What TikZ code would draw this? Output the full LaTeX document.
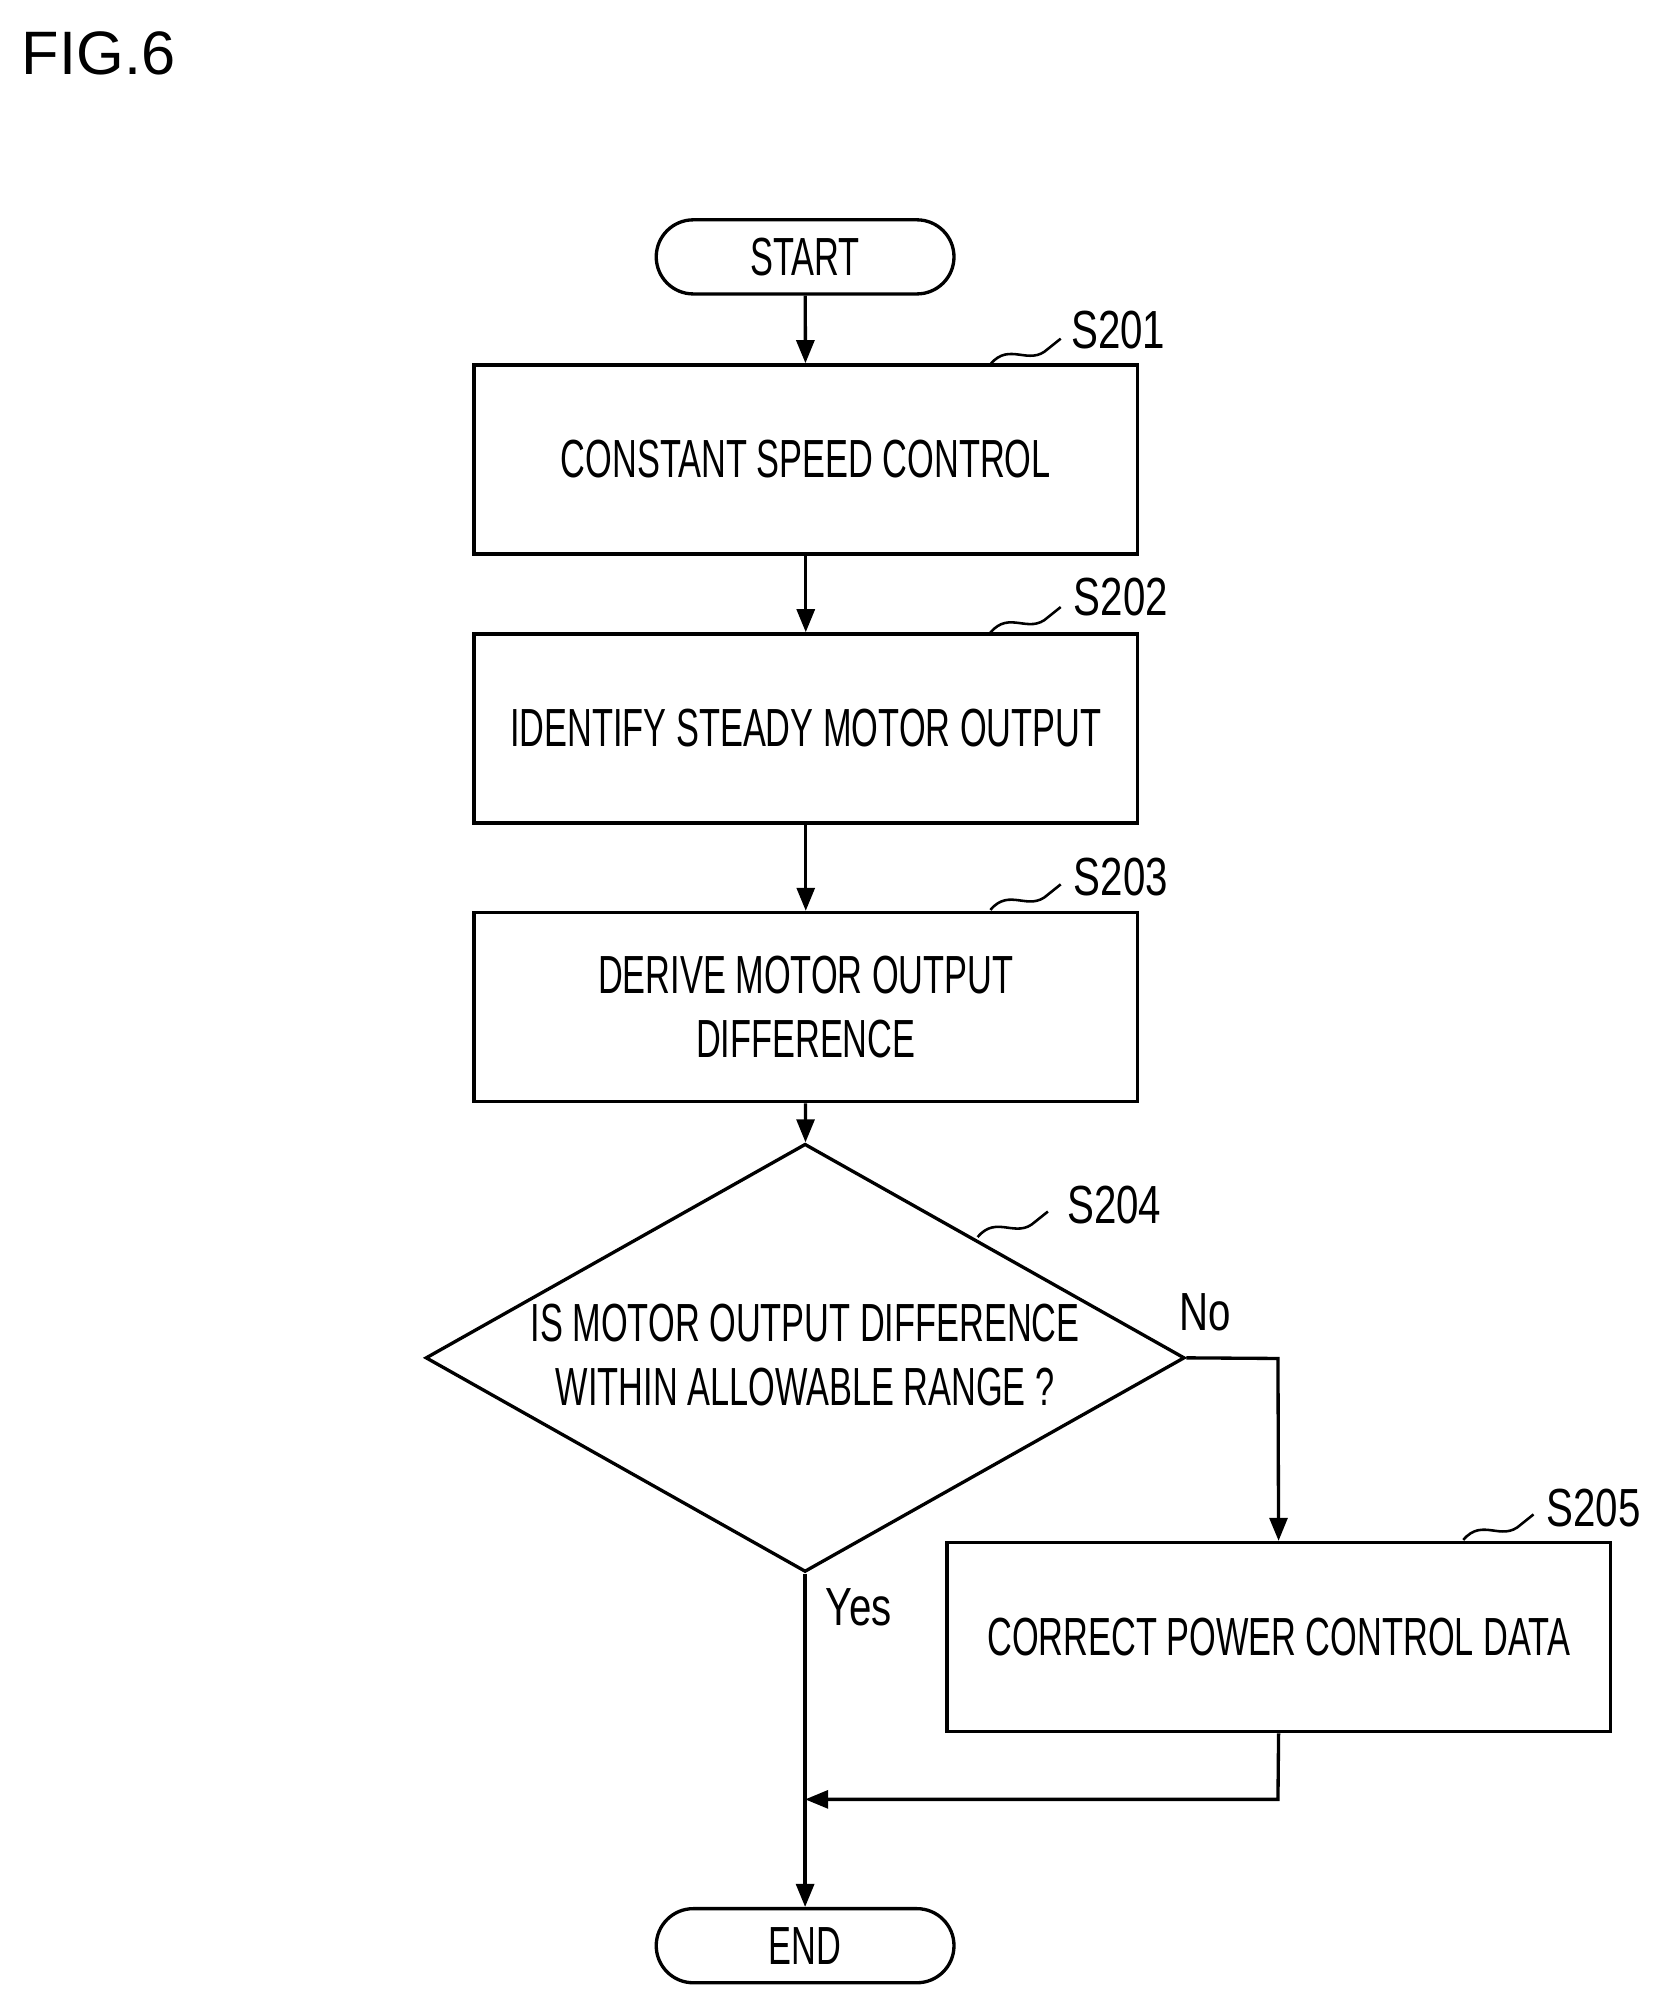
\documentclass[tikz,border=0pt]{standalone}
\usepackage{fontspec}
\setmainfont{Liberation Sans}
\newfontfamily\cond[FakeStretch=0.64]{Liberation Sans}
\newfontfamily\condl[FakeStretch=0.75]{Liberation Sans}
\usetikzlibrary{shapes.geometric,arrows.meta}
\begin{document}
\begin{tikzpicture}[x=0.5pt,y=-0.5pt,
  box/.style={draw,line width=1.3pt,minimum width=259.5pt,minimum height=74pt,align=center,font=\cond\fontsize{21}{25}\selectfont},
  term/.style={draw,line width=1.3pt,rounded corners=14.5pt,minimum width=116.5pt,minimum height=29pt,font=\cond\fontsize{21}{25}\selectfont},
  lab/.style={font=\condl\fontsize{21}{25}\selectfont},
  arr/.style={line width=1.3pt,-{Triangle[length=9pt,width=7pt]}},
  ln/.style={line width=1.3pt}]
\useasboundingbox (0,0) rectangle (1300,1565);
\node[anchor=north west,font=\fontsize{24}{28}\selectfont] (fig) at (10,18) {FIG.6};
\node[term] (start) at (630,201) {START};
\node[box] (s1) at (630.5,359.5) {CONSTANT SPEED CONTROL};
\node[box] (s2) at (630.5,570) {IDENTIFY STEADY MOTOR OUTPUT};
\node[box] (s3) at (630.5,788) {DERIVE MOTOR OUTPUT\\DIFFERENCE};
\node[draw,line width=1.3pt,diamond,minimum width=297pt,minimum height=167.5pt,inner sep=0pt,align=center,font=\cond\fontsize{21}{25}\selectfont] (d) at (630,1062.5) {};
\node[font=\cond\fontsize{21}{25}\selectfont,align=center] (dt) at (630,1060) {IS MOTOR OUTPUT DIFFERENCE\\WITHIN ALLOWABLE RANGE ?};
\node[box] (s5) at (1000.5,1281) {CORRECT POWER CONTROL DATA};
\node[term] (end) at (630,1522.5) {END};
\coordinate (c1) at (1000,1063);
\coordinate (c2) at (1000,1408);
\coordinate (c3) at (630,1408);
\draw[arr] (start) -- (s1);
\draw[arr] (s1) -- (s2);
\draw[arr] (s2) -- (s3);
\draw[arr] (s3) -- (d);
\draw[arr] (d.east) -- (c1) -- (s5.north);
\draw[arr] (d.south) -- (end);
\draw[arr] (s5.south) -- (c2) -- (c3);
\node[lab] (no) at (943,1027) {No};
\node[lab] (yes) at (672,1258) {Yes};
\foreach \n/\x/\y/\lx/\ly in {S201/775/285/875/258, S202/775/495/877/467, S203/775/712/877/686, S204/765/968/872/943, S205/1145/1205/1247/1180}{
  \node[lab] at (\lx,\ly) {\n};
  \draw[line width=1pt] (\x,\y) .. controls (\x+15,\y-18) and (\x+30,\y+2) .. (\x+45,\y-12) -- (\x+55,\y-20);
}
\end{tikzpicture}
\end{document}
